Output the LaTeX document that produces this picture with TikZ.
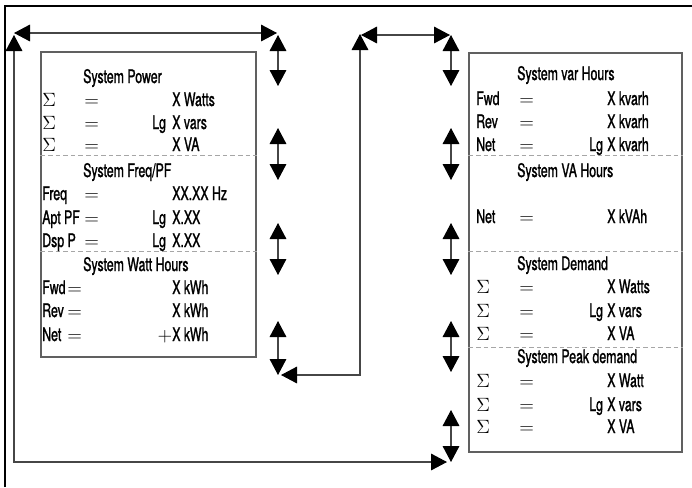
\documentclass[tikz,border=0pt]{standalone}
\usepackage{fontspec}
\setmainfont{TeX Gyre Heros}[FakeStretch=0.66, FakeBold=1.2]
\usetikzlibrary{arrows.meta,fit}

\begin{document}
\begin{tikzpicture}[
    x=0.75pt, y=-0.75pt,
    frame/.style={line width=2pt, black},
    panel/.style={draw=gray!75!black, line width=0.9pt, inner sep=0pt},
    sep/.style={draw=gray!70, line width=0.6pt, dash pattern=on 3.5pt off 2.2pt},
    link/.style={<->, >={Triangle[length=12pt,width=12.5pt,color=black]}, draw=gray!55!black, line width=0.8pt},
    txt/.style={anchor=base west, inner sep=0pt, font=\fontsize{14}{16}\selectfont}
]
\useasboundingbox (0,0) rectangle (692,487);
\draw[frame] (5,487) -- (5,6) -- (692,6);

% display boxes
\node[panel, fit={(41,52) (256,357)}] (lbox) {};
\node[panel, fit={(469,53) (682,452)}] (rbox) {};
\draw[sep] (lbox.west |- 0,155) -- (lbox.east |- 0,155);
\draw[sep] (lbox.west |- 0,251) -- (lbox.east |- 0,251);
\foreach \yd in {155,251,347}
  \draw[sep] (rbox.west |- 0,\yd) -- (rbox.east |- 0,\yd);

% left box
\node[txt] (lh1) at (83,83) {System Power};
\node[txt] (lh2) at (83,177) {System Freq/PF};
\node[txt] (lh3) at (83,271) {System Watt Hours};
\foreach \lab/\eqx/\pre/\val/\yb [count=\i] in {
    $\Sigma$/84/{}/X Watts/106, $\Sigma$/84/Lg/X vars/129, $\Sigma$/84/{}/X VA/151,
    Freq/84/{}/XX.XX Hz/200, Apt PF/84/Lg/X.XX/224, Dsp P/84/Lg/X.XX/247,
    Fwd/67/{}/X kWh/294, Rev/67/{}/X kWh/317, Net/67/{}/\llap{$+$}X kWh/341} {
  \node[txt] (ll\i) at (42,\yb) {\lab};
  \node[txt] (le\i) at (\eqx,\yb) {$=$};
  \node[txt] (lp\i) at (152,\yb) {\pre};
  \node[txt] (lv\i) at (172,\yb) {\val};
}

% right box
\node[txt] (rh1) at (517,80) {System var Hours};
\node[txt] (rh2) at (517,177) {System VA Hours};
\node[txt] (rh3) at (517,270) {System Demand};
\node[txt] (rh4) at (517,363) {System Peak demand};
\foreach \lab/\pre/\val/\yb [count=\i] in {
    Fwd/{}/X kvarh/105, Rev/{}/X kvarh/128, Net/Lg/X kvarh/151, Net/{}/X kVAh/223,
    $\Sigma$/{}/X Watts/293, $\Sigma$/Lg/X vars/317, $\Sigma$/{}/X VA/340,
    $\Sigma$/{}/X Watt/387, $\Sigma$/Lg/X vars/411, $\Sigma$/{}/X VA/433} {
  \node[txt] (rl\i) at (476,\yb) {\lab};
  \node[txt] (re\i) at (519,\yb) {$=$};
  \node[txt] (rp\i) at (589,\yb) {\pre};
  \node[txt] (rv\i) at (607,\yb) {\val};
}

% scroll arrows
\foreach \ya/\yb [count=\i] in {35/86,128/180,223/275,321/375} {
  \coordinate (la\i) at (278,\ya);
  \coordinate (lb\i) at (278,\yb);
  \draw[link] (la\i) -- (lb\i);
}
\foreach \ya/\yb [count=\i] in {35/86,128/180,223/275,321/372,410/462} {
  \coordinate (ra\i) at (451,\ya);
  \coordinate (rb\i) at (451,\yb);
  \draw[link] (ra\i) -- (rb\i);
}

% wrap-around paths
\coordinate (tl) at (14,33);
\coordinate (tr) at (277,33);
\coordinate (ul) at (14,35);
\coordinate (bl) at (14,462);
\coordinate (br) at (447,462);
\draw[link] (tl) -- (tr);
\draw[link] (ul) -- (bl) -- (br);

\coordinate (mb) at (281,375);
\coordinate (mc) at (360,375);
\coordinate (mt) at (360,34);
\coordinate (mr) at (450,35);
\coordinate (ml) at (361,35);
\draw[link] (mb) -- (mc) -- (mt);
\draw[link] (ml) -- (mr);
\end{tikzpicture}
\end{document}
